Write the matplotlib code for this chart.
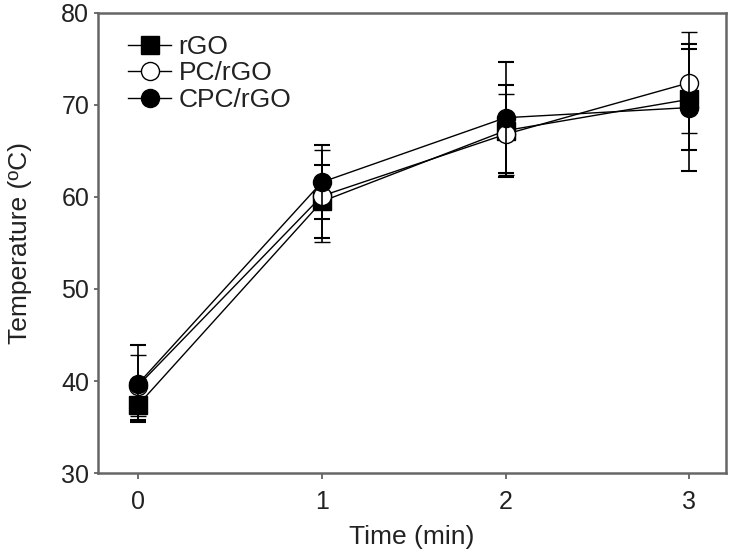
import matplotlib
matplotlib.use("Agg")
import matplotlib.pyplot as plt

plt.rcParams['font.family'] = ['Liberation Sans', 'DejaVu Sans']

time = [0, 1, 2, 3]
rgo = [37.4, 59.5, 67.2, 70.6]
rgo_err = [1.6, 4.0, 5.0, 5.5]
pc_rgo = [39.5, 60.1, 66.8, 72.4]
pc_rgo_err = [3.3, 5.0, 4.4, 5.5]
cpc_rgo = [39.7, 61.6, 68.6, 69.7]
cpc_rgo_err = [4.2, 4.0, 6.0, 6.9]

fig = plt.figure(figsize=(7.29, 5.54), dpi=100)
ax = fig.add_axes([0.134, 0.146, 0.862, 0.831])

common = dict(color='black', ecolor='black', elinewidth=1.2, capsize=5.5,
              capthick=1.5, lw=1.0, markersize=13)
c1 = ax.errorbar(time, rgo, yerr=rgo_err, fmt='-s', mfc='black', mec='black',
                 label='rGO', zorder=3, **common)
c2 = ax.errorbar(time, pc_rgo, yerr=pc_rgo_err, fmt='-o', mfc='white', mec='black',
                 mew=1.0, label='PC/rGO', zorder=4, **common)
c3 = ax.errorbar(time, cpc_rgo, yerr=cpc_rgo_err, fmt='-o', mfc='black', mec='black',
                 label='CPC/rGO', zorder=5, **common)

ax.set_xlim(-0.22, 3.2)
ax.set_ylim(30, 80)
ax.set_xticks(time)
ax.set_yticks([30, 40, 50, 60, 70, 80])
ax.set_xlabel('Time (min)', fontsize=19, color='#222222', labelpad=8)
ax.set_ylabel('Temperature (ºC)', fontsize=19, color='#222222', labelpad=21)
ax.tick_params(axis='x', labelsize=18, direction='out', length=4, width=1.2,
               pad=8, colors='#555555', labelcolor='#222222')
ax.tick_params(axis='y', labelsize=18, direction='out', length=3, width=1.2,
               pad=3, colors='#555555', labelcolor='#222222')
for s in ax.spines.values():
    s.set_color('#666666')
    s.set_linewidth(1.8)

leg = ax.legend(handles=[c1[0], c2[0], c3[0]], labels=['rGO', 'PC/rGO', 'CPC/rGO'],
                loc='upper left', frameon=False, fontsize=19, handlelength=1.6,
                handletextpad=0.3, labelspacing=0.1, borderaxespad=0.0,
                borderpad=0.0, bbox_to_anchor=(0.049, 0.952))
for t in leg.get_texts():
    t.set_color('#222222')

fig.savefig('out.png', dpi=100)
